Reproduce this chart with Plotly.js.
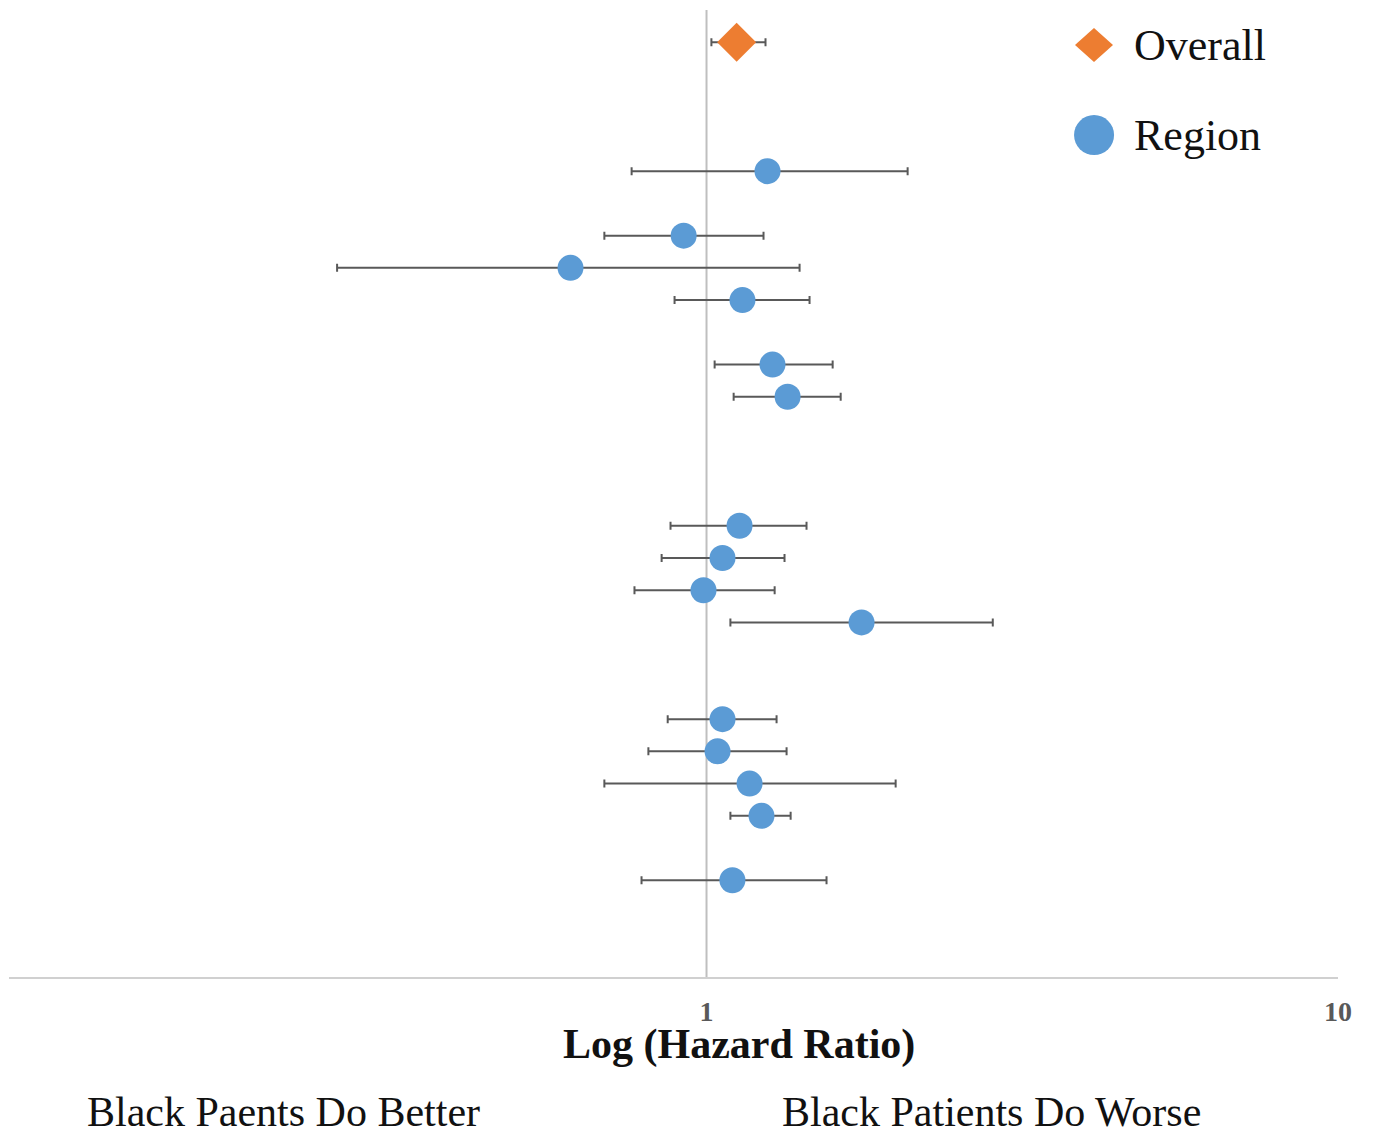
<!DOCTYPE html>
<html>
<head>
<meta charset="utf-8">
<script src="https://cdn.plot.ly/plotly-3.0.1.min.js"></script>
<style>html,body{margin:0;padding:0;background:#fff;}#chart{width:1373px;height:1135px;}</style>
</head>
<body>
<div id="chart"></div>
<script>
// Overall estimate
const overallRow = [0];
const overallHR = [1.116];
const overallLow = [1.018];
const overallHigh = [1.240];

// Regional estimates (row position from top)
const regionRows = [4, 6, 7, 8, 10, 11, 15, 16, 17, 18, 21, 22, 23, 24, 26];
const regionHR   = [1.249, 0.920, 0.609, 1.140, 1.272, 1.344, 1.128, 1.060, 0.989, 1.760, 1.060, 1.041, 1.170, 1.222, 1.099];
const regionLow  = [0.761, 0.689, 0.260, 0.890, 1.030, 1.104, 0.877, 0.849, 0.769, 1.091, 0.868, 0.809, 0.689, 1.091, 0.789];
const regionHigh = [2.082, 1.231, 1.404, 1.456, 1.584, 1.631, 1.440, 1.329, 1.282, 2.840, 1.291, 1.339, 1.993, 1.359, 1.549];

const tickVals = [1, 10];
const tickText = ['1', '10'];

const errStyle = {color: '#595959', thickness: 2, width: 4};

const traces = [
  {
    type: 'scatter', mode: 'markers', name: 'Region',
    x: regionHR, y: regionRows,
    error_x: Object.assign({type: 'data', symmetric: false,
      array: regionHR.map((v, i) => regionHigh[i] - v),
      arrayminus: regionHR.map((v, i) => v - regionLow[i])}, errStyle),
    marker: {symbol: 'circle', size: 26, color: '#5B9BD5'},
    showlegend: false
  },
  {
    type: 'scatter', mode: 'markers', name: 'Overall',
    x: overallHR, y: overallRow,
    error_x: Object.assign({type: 'data', symmetric: false,
      array: overallHR.map((v, i) => overallHigh[i] - v),
      arrayminus: overallHR.map((v, i) => v - overallLow[i])}, errStyle),
    marker: {symbol: 'diamond', size: 30, color: '#ED7D31'},
    showlegend: false
  }
];

const serif = '"Liberation Serif", "DejaVu Serif", serif';

const layout = {
  width: 1373, height: 1135,
  margin: {l: 9, r: 35, t: 10, b: 158},
  paper_bgcolor: '#ffffff', plot_bgcolor: '#ffffff',
  showlegend: false,
  xaxis: {
    type: 'log', range: [Math.log10(0.0786), 1],
    tickvals: tickVals, ticktext: tickText,
    showgrid: false, zeroline: false,
    showline: true, linecolor: '#d0d0d0', linewidth: 2,
    ticks: '', ticklabelstandoff: 8,
    tickfont: {family: serif, size: 28, color: '#595959', weight: 'bold'}
  },
  yaxis: {
    range: [29, -1], visible: false, showgrid: false, zeroline: false
  },
  shapes: [
    {type: 'line', xref: 'x', yref: 'paper', x0: 1, x1: 1, y0: 0, y1: 1,
     line: {color: '#bfbfbf', width: 2}, layer: 'below'},
    {type: 'path', xref: 'paper', yref: 'paper',
     path: 'M 0.8164 0.9814 L 0.8307 0.9638 L 0.8164 0.9462 L 0.8021 0.9638 Z',
     fillcolor: '#ED7D31', line: {width: 0}},
    {type: 'circle', xref: 'paper', yref: 'paper',
     x0: 0.8014, x1: 0.8315, y0: 0.8500, y1: 0.8914,
     fillcolor: '#5B9BD5', line: {width: 0}}
  ],
  annotations: [
    {xref: 'paper', yref: 'paper', x: 0.8450, y: 0.9638, xanchor: 'left', yanchor: 'middle',
     text: 'Overall', showarrow: false, font: {family: serif, size: 44, color: '#111'}},
    {xref: 'paper', yref: 'paper', x: 0.8450, y: 0.8707, xanchor: 'left', yanchor: 'middle',
     text: 'Region', showarrow: false, font: {family: serif, size: 44, color: '#111'}},
    {xref: 'paper', yref: 'paper', x: 0.549, y: -0.0693, xanchor: 'center', yanchor: 'middle',
     text: '<b>Log (Hazard Ratio)</b>', showarrow: false,
     font: {family: serif, size: 42, color: '#111'}},
    {xref: 'paper', yref: 'paper', x: 0.0571, y: -0.1395, xanchor: 'left', yanchor: 'middle',
     text: 'Black Paents Do Better', showarrow: false,
     font: {family: serif, size: 42, color: '#111'}},
    {xref: 'paper', yref: 'paper', x: 0.5801, y: -0.1395, xanchor: 'left', yanchor: 'middle',
     text: 'Black Patients Do Worse', showarrow: false,
     font: {family: serif, size: 42, color: '#111'}}
  ]
};

Plotly.newPlot('chart', traces, layout, {displayModeBar: false, staticPlot: true});
</script>
</body>
</html>
